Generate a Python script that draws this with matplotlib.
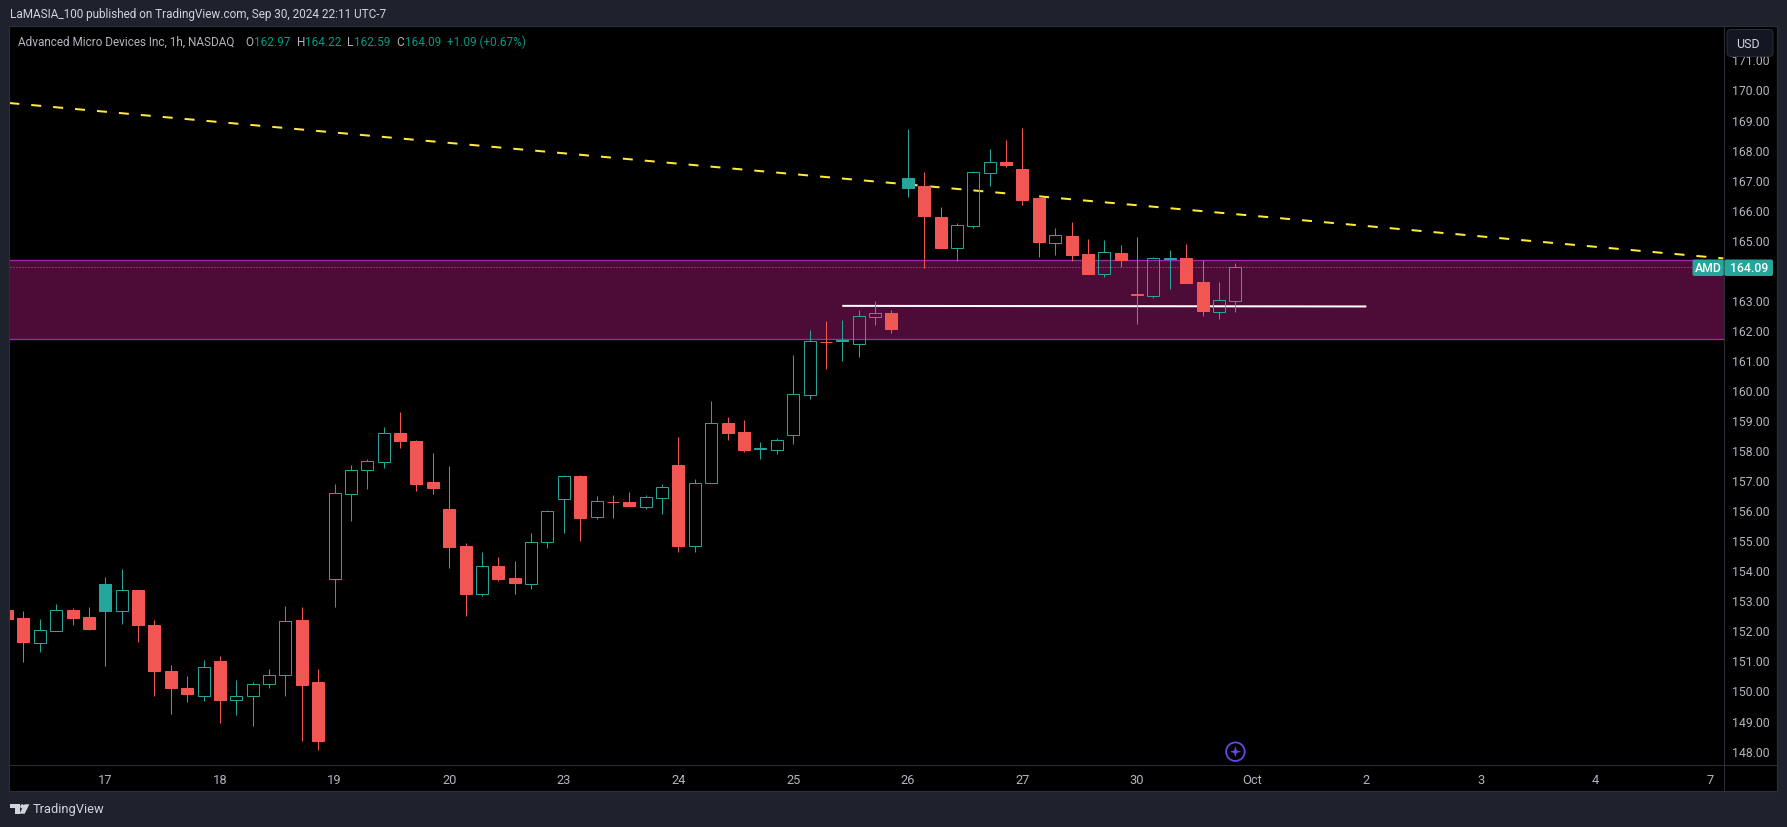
import matplotlib
matplotlib.use("Agg")
import matplotlib.pyplot as plt
from matplotlib.patches import Rectangle, FancyBboxPatch, Polygon, Circle

plt.rcParams['font.family'] = ['Roboto', 'DejaVu Sans']

# candles, 1h, one list per field, from the cut-off bar on the left to the last one
opens = [152.68, 152.41, 151.59, 151.99, 152.68, 152.45,
         153.54, 152.66, 153.34, 152.18, 150.65, 150.08, 149.83,
         150.98, 149.69, 149.81, 150.20, 150.51, 152.35, 150.28,
         153.72, 156.55, 157.35, 157.62, 158.57, 158.30, 156.94,
         156.04, 154.81, 153.22, 154.14, 153.74, 153.55, 154.95,
         156.38, 157.14, 155.78, 156.26, 156.27, 156.12, 156.42,
         157.50, 154.82, 156.92, 158.90, 158.60, 158.05, 158.01,
         158.51, 159.84, 161.60, 161.65, 161.54, 162.44, 162.56,
         167.05, 166.79, 165.76, 164.74, 165.47, 167.23, 167.59,
         167.35, 166.39, 164.90, 165.12, 164.53, 163.87, 164.56,
         163.17, 163.14, 164.37, 164.39, 163.59, 162.61, 162.97]
highs = [152.70, 152.65, 152.38, 152.88, 152.75, 152.78,
         153.78, 154.04, 153.34, 152.35, 150.85, 150.48, 151.01,
         151.15, 150.35, 150.27, 150.72, 152.81, 152.78, 150.72,
         156.87, 157.50, 157.70, 158.77, 159.27, 158.34, 157.90,
         157.47, 154.91, 154.61, 154.44, 154.31, 155.24, 156.01,
         157.17, 157.17, 156.47, 156.51, 156.61, 156.51, 156.87,
         158.44, 157.04, 159.63, 159.10, 159.00, 158.27, 158.40,
         161.16, 162.00, 162.30, 162.33, 162.66, 162.96, 162.66,
         168.69, 167.25, 166.09, 165.56, 167.29, 168.02, 168.32,
         168.72, 166.39, 165.39, 165.59, 165.02, 164.99, 164.83,
         165.09, 164.43, 164.66, 164.86, 164.33, 163.59, 164.22]
lows = [152.36, 150.96, 151.29, 151.99, 152.18, 152.01,
        150.83, 152.21, 151.62, 149.83, 149.22, 149.62, 149.65,
        148.92, 149.18, 148.82, 150.08, 149.83, 148.32, 148.02,
        152.79, 155.65, 156.72, 157.40, 158.07, 156.64, 156.54,
        154.08, 152.48, 153.16, 153.64, 153.21, 153.38, 154.74,
        155.24, 154.98, 155.71, 155.74, 156.14, 156.04, 155.87,
        154.61, 154.61, 156.89, 158.34, 157.94, 157.70, 157.87,
        158.20, 159.70, 160.70, 160.97, 161.10, 162.16, 161.90,
        166.42, 164.06, 164.73, 164.29, 165.39, 166.79, 167.42,
        166.16, 164.43, 164.49, 164.29, 163.86, 163.76, 164.09,
        162.20, 163.06, 163.36, 163.56, 162.46, 162.36, 162.59]
closes = [152.38, 151.62, 152.00, 152.67, 152.41, 152.05,
          152.65, 153.33, 152.18, 150.65, 150.08, 149.88, 150.77,
          149.68, 149.81, 150.21, 150.51, 152.30, 150.18, 148.32,
          156.56, 157.33, 157.63, 158.56, 158.30, 156.87, 156.74,
          154.78, 153.21, 154.13, 153.71, 153.58, 154.93, 155.96,
          157.13, 155.74, 156.30, 156.28, 156.14, 156.43, 156.76,
          154.81, 156.90, 158.89, 158.57, 158.00, 158.07, 158.33,
          159.86, 161.62, 161.61, 161.615, 162.45, 162.55, 162.03,
          166.72, 165.79, 164.73, 165.48, 167.24, 167.58, 167.49,
          166.32, 164.93, 165.15, 164.49, 163.86, 164.58, 164.33,
          163.19, 164.38, 164.39, 163.56, 162.63, 163.00, 164.09]
primeira_barra = -6

dias = ['17', '18', '19', '20', '23', '24', '25', '26', '27', '30', 'Oct', '2', '3', '4', '7']
barras_dia = [0, 7, 14, 21, 28, 35, 42, 49, 56, 63, 70, 77, 84, 91, 98]
precos_tick = [p for p in range(148, 172) if p != 164]

zona_topo, zona_base = 164.33, 161.69
tendencia_barras = [-5.86, 98.8]
tendencia_precos = [169.55, 164.38]
suporte_barras = [45, 77]
suporte_precos = [162.80, 162.78]

VERDE = '#26a69a'
VERMELHO = '#f25652'
FUNDO = '#1e222d'
BORDA = '#2a2e39'
TEXTO = '#b2b5be'

W, H = 1787, 828
PANE_L, PANE_R, PANE_T, PANE_B = 9.5, 1723.7, 27.5, 765.7
BAR0_X, BAR_PX = 105.3, 16.377
Y170, PRECO_PX = 90.5, 30.05
PX = 0.72  # 1 pixel in points at dpi 100


def desenhar_candles(ax):
    xs = list(range(primeira_barra, primeira_barra + len(closes)))
    for n, x in enumerate(xs):
        o, h, l, c = opens[n], highs[n], lows[n], closes[n]
        # hollow candles: colour from previous close, fill from close vs open
        cor = VERMELHO if n == 0 or c < closes[n - 1] else VERDE
        topo, base = max(o, c), min(o, c)
        ax.vlines(x, topo, h, color=cor, lw=PX, zorder=3)
        ax.vlines(x, l, base, color=cor, lw=PX, zorder=3)
        ax.bar(x, topo - base, bottom=base, width=12 / BAR_PX, linewidth=PX,
               facecolor=cor if c < o else 'none', edgecolor=cor, zorder=3)


fig = plt.figure(figsize=(W / 100, H / 100), dpi=100, facecolor=FUNDO)

# background frame, in pixels
fundo = fig.add_axes([0, 0, 1, 1], zorder=-1)
fundo.set_xlim(0, W)
fundo.set_ylim(H, 0)
fundo.axis('off')
fundo.add_patch(Rectangle((9, 27), 1768, 765, facecolor='black', edgecolor=BORDA, lw=1.2 * PX))
fundo.plot([9, 1777], [PANE_B, PANE_B], color=BORDA, lw=PX)
fundo.plot([PANE_R, PANE_R], [27, 792], color=BORDA, lw=PX)

# chart pane
ax = fig.add_axes([PANE_L / W, (H - PANE_B) / H, (PANE_R - PANE_L) / W, (PANE_B - PANE_T) / H],
                  facecolor='none', zorder=1)
ax.set_xlim((PANE_L - BAR0_X) / BAR_PX, (PANE_R - BAR0_X) / BAR_PX)
ax.set_ylim(170 - (PANE_B - Y170) / PRECO_PX, 170 + (Y170 - PANE_T) / PRECO_PX)
for lado in ax.spines.values():
    lado.set_visible(False)

ax.axhspan(zona_base, zona_topo, facecolor='#4d0c38', edgecolor='none', zorder=1)
ax.axhline(zona_topo, color='#9c27b0', lw=1.3 * PX, zorder=1.5)
ax.axhline(zona_base, color='#9c27b0', lw=1.3 * PX, zorder=1.5)

ax.plot(tendencia_barras, tendencia_precos, color='#ffeb3b', lw=2 * PX, zorder=2,
        dashes=(10 / 2, 12 / 2), dash_capstyle='butt')
ax.plot(suporte_barras, suporte_precos, color='white', lw=2 * PX, zorder=2, solid_capstyle='butt')

desenhar_candles(ax)
ax.axhline(closes[-1], color=VERDE, lw=PX, dashes=(1, 2), zorder=4)

ax.set_xticks(barras_dia)
ax.set_xticklabels(dias)
ax.set_yticks(precos_tick)
ax.set_yticklabels([f'{p:.2f}' for p in precos_tick])
ax.yaxis.tick_right()
ax.tick_params(axis='x', length=0, pad=6, colors=TEXTO, labelsize=9.3)
ax.tick_params(axis='y', length=0, pad=6.2, colors=TEXTO, labelsize=8.8)

# texts, badges and logo on top, in pixels
topo = fig.add_axes([0, 0, 1, 1], zorder=5, facecolor='none')
topo.set_xlim(0, W)
topo.set_ylim(H, 0)
topo.axis('off')

topo.text(10, 14.7, 'LaMASIA_100 published on TradingView.com, Sep 30, 2024 22:11 UTC-7',
          color='#d1d4dc', fontsize=8.5, va='center')

topo.text(18, 42, 'Advanced Micro Devices Inc, 1h, NASDAQ', color=TEXTO, fontsize=8.5, va='center')
VERDE_TXT = '#089981'
legenda = [(245, 254, 'O', opens[-1]), (296.6, 305, 'H', highs[-1]),
           (347.5, 354, 'L', lows[-1]), (396.5, 404.5, 'C', closes[-1])]
for x_letra, x_valor, letra, valor in legenda:
    topo.text(x_letra, 42, letra, color=TEXTO, fontsize=8.5, va='center')
    topo.text(x_valor, 42, f'{valor:.2f}', color=VERDE_TXT, fontsize=8.5, va='center')
variacao = closes[-1] - closes[-2]
topo.text(447, 42, f'{variacao:+.2f} ({100 * variacao / closes[-2]:+.2f}%)',
          color=VERDE_TXT, fontsize=8.5, va='center')

topo.add_patch(FancyBboxPatch((1729, 32.5), 42, 23, boxstyle='round,pad=2,rounding_size=4',
                              facecolor='#131722', edgecolor=BORDA, lw=PX))
topo.text(1736, 44.5, 'USD', color='#d1d4dc', fontsize=9, va='center', ha='left')

topo.add_patch(FancyBboxPatch((1693.5, 261.5), 29.2, 14.5, boxstyle='round,pad=1,rounding_size=2',
                              facecolor=VERDE, edgecolor='none'))
topo.add_patch(FancyBboxPatch((1725.5, 261.5), 46.5, 14.5, boxstyle='round,pad=1,rounding_size=2',
                              facecolor=VERDE, edgecolor='none'))
topo.text(1708, 268.7, 'AMD', color='white', fontsize=8.8, va='center', ha='center', fontweight='medium')
topo.text(1749.5, 268.7, f'{closes[-1]:.2f}', color='white', fontsize=8.8, va='center', ha='center',
          fontweight='medium')

# purple event marker under the last bar
ROXO = '#6a45e8'
topo.add_patch(Circle((1235.4, 752.7), 9.3, facecolor='black', edgecolor=ROXO, lw=1.8 * PX))
topo.add_patch(Polygon([(1235.4, 747), (1236.7, 751.4), (1241, 752.7), (1236.7, 754),
                        (1235.4, 758.4), (1234.1, 754), (1229.8, 752.7), (1234.1, 751.4)],
                       facecolor=ROXO, edgecolor='none'))

# TradingView logo
LOGO = '#d1d4dc'
topo.add_patch(Polygon([(10, 805.3), (19.5, 805.3), (19.5, 814.7), (15, 814.7), (15, 809.5), (10, 809.5)],
                       facecolor=LOGO, edgecolor='none'))
topo.add_patch(Circle((22.3, 807.4), 2.1, facecolor=LOGO, edgecolor='none'))
topo.add_patch(Polygon([(24.5, 805.3), (29.4, 805.3), (24.7, 814.7), (19.4, 814.7)],
                       facecolor=LOGO, edgecolor='none'))
topo.text(33, 810, 'TradingView', color=LOGO, fontsize=9.3, va='center')

fig.savefig('out.png', dpi=100, facecolor=FUNDO)
